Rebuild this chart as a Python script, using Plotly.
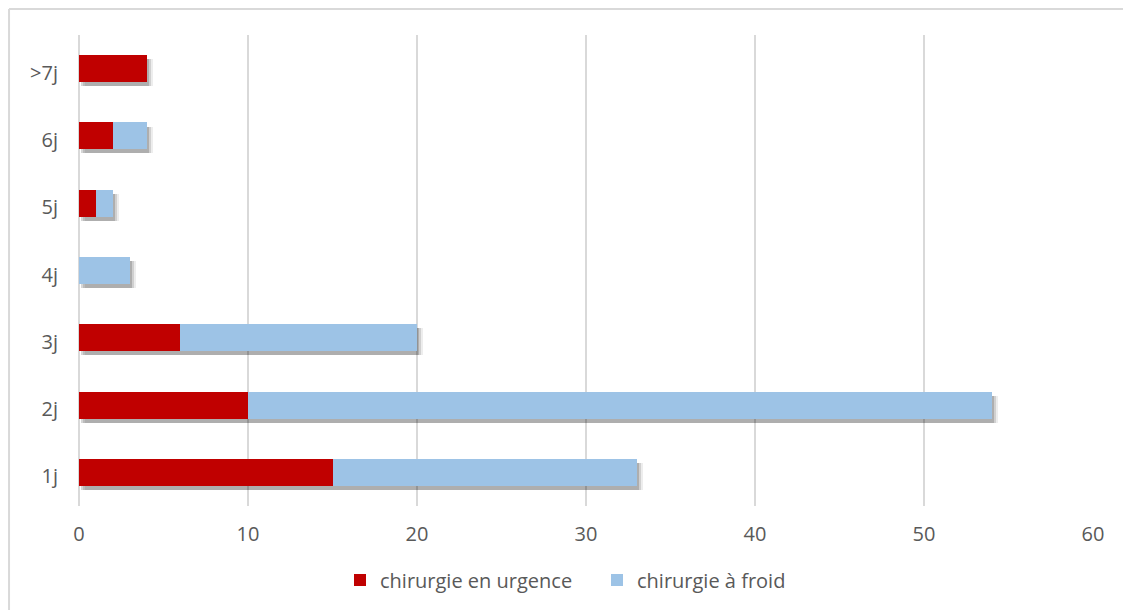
import plotly.graph_objects as go

categories = ["1j", "2j", "3j", "4j", "5j", "6j", ">7j"]
urgence = [15, 10, 6, 0, 1, 2, 4]
froid = [18, 44, 14, 3, 1, 2, 0]
x_ticks = [0, 10, 20, 30, 40, 50, 60]

totals = [u + f for u, f in zip(urgence, froid)]

RED = "#C00000"
BLUE = "#9DC3E6"
TXT = "#595959"
GRID = "#D9D9D9"

fig = go.Figure()

# soft shadow layers (on base axis, offset downward)
for dx, op in [(0.36, 0.07), (0.24, 0.12), (0.12, 0.16)]:
    fig.add_trace(go.Bar(
        y=categories, x=totals, base=dx, orientation="h", width=0.4,
        marker=dict(color=f"rgba(0,0,0,{op})", line=dict(width=0)),
        showlegend=False, hoverinfo="skip",
    ))

fig.add_trace(go.Bar(
    y=categories, x=urgence, name="chirurgie en urgence", orientation="h",
    width=0.4, marker=dict(color=RED, line=dict(width=0)), yaxis="y2",
))
fig.add_trace(go.Bar(
    y=categories, x=froid, name="chirurgie à froid", orientation="h",
    width=0.4, marker=dict(color=BLUE, line=dict(width=0)), yaxis="y2",
))

fig.update_layout(
    barmode="stack",
    width=1131, height=610,
    margin=dict(l=71, r=46, t=27, b=112, autoexpand=False),
    paper_bgcolor="white", plot_bgcolor="white",
    font=dict(family="Open Sans, Lato, sans-serif", size=20, color=TXT),
    xaxis=dict(
        range=[0, 60], tickvals=x_ticks, showgrid=True, gridcolor=GRID,
        gridwidth=2, zeroline=True, zerolinecolor=GRID, zerolinewidth=2,
        showline=False, ticks="", ticklabelstandoff=14, automargin=False,
        tickfont=dict(size=20, color=TXT),
    ),
    yaxis=dict(
        categoryorder="array", categoryarray=categories,
        range=[-0.44, 6.56], showgrid=False, ticks="", showline=False,
        ticklabelstandoff=20, automargin=False,
        tickfont=dict(size=20, color=TXT),
        tickvals=categories, ticktext=categories,
    ),
    yaxis2=dict(
        overlaying="y", categoryorder="array", categoryarray=categories,
        range=[-0.5, 6.5], showgrid=False, showticklabels=False,
        showline=False, ticks="", zeroline=False, automargin=False,
    ),
    legend=dict(
        orientation="h", x=0.2574, xanchor="left", y=-0.157, yanchor="middle",
        font=dict(size=20, color=TXT), traceorder="normal",
        entrywidth=212, entrywidthmode="pixels",
    ),
    shapes=[
        dict(type="line", xref="paper", yref="paper", x0=-0.069, x1=1.1,
             y0=1.055, y1=1.055, line=dict(color=GRID, width=2)),
        dict(type="line", xref="paper", yref="paper", x0=-0.069, x1=-0.069,
             y0=1.055, y1=-0.3, line=dict(color=GRID, width=2)),
    ],
)

fig.write_html("out.html")
